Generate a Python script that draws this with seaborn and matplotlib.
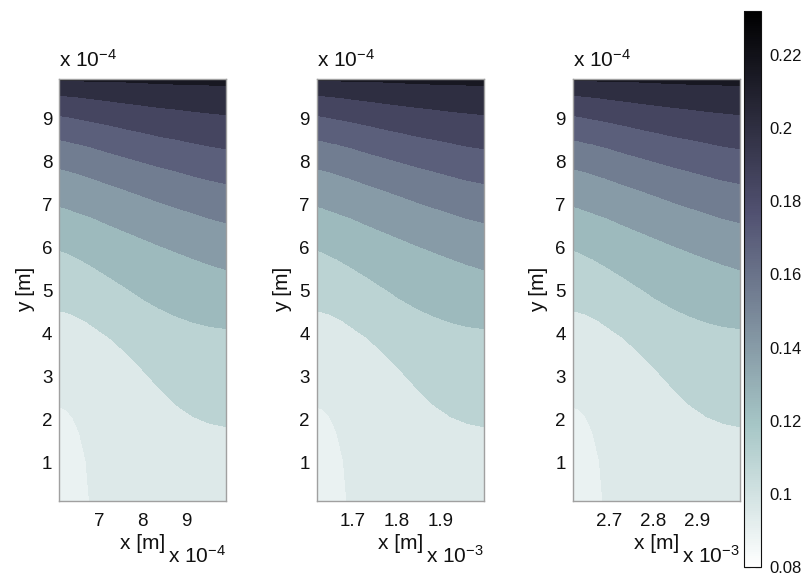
"""
Three contour panels of the same field on three x-windows, shared bone colorbar.
"""

import numpy as np
import matplotlib
matplotlib.use("Agg")
import matplotlib.pyplot as plt
import matplotlib.colors as mcolors
import seaborn as sns

# contour levels (field value) and where each level line sits, y in 1e-4 m,
# read at fractional positions across the panel width
levels = [0.08, 0.095, 0.11, 0.125, 0.14, 0.155, 0.17, 0.185, 0.20, 0.215, 0.232]
# value used for the colour of each band (lower level, first band a touch darker)
band_values = [0.089, 0.095, 0.11, 0.125, 0.14, 0.155, 0.17, 0.185, 0.20, 0.215]
u_cols = [0, 0.04, 0.08, 0.12, 0.16, 0.2, 0.3, 0.4, 0.5, 0.6, 0.7, 0.8, 0.9, 1.0]
y_080 = [-3.0] * 14
y_095 = [2.30, 2.24, 2.06, 1.71, 1.05, -0.8, -2.5, -2.5, -2.5, -2.5, -2.5, -2.5, -2.5, -2.5]
y_110 = [4.53, 4.50, 4.45, 4.37, 4.29, 4.18, 3.91, 3.56, 3.16, 2.73, 2.35, 2.08, 1.92, 1.84]
y_125 = [5.94, 5.89, 5.81, 5.74, 5.65, 5.56, 5.32, 5.07, 4.81, 4.59, 4.41, 4.27, 4.17, 4.12]
y_140 = [6.96, 6.92, 6.86, 6.81, 6.75, 6.70, 6.53, 6.37, 6.21, 6.05, 5.90, 5.75, 5.61, 5.49]
y_155 = [7.84, 7.80, 7.76, 7.71, 7.66, 7.61, 7.47, 7.34, 7.20, 7.06, 6.93, 6.81, 6.68, 6.58]
y_170 = [8.51, 8.48, 8.44, 8.41, 8.37, 8.33, 8.21, 8.10, 7.99, 7.88, 7.78, 7.67, 7.57, 7.49]
y_185 = [9.07, 9.05, 9.02, 8.99, 8.96, 8.93, 8.85, 8.76, 8.68, 8.59, 8.52, 8.44, 8.36, 8.30]
y_200 = [9.54, 9.53, 9.51, 9.50, 9.48, 9.46, 9.41, 9.36, 9.31, 9.26, 9.22, 9.17, 9.13, 9.09]
y_215 = [9.88, 9.88, 9.88, 9.88, 9.87, 9.87, 9.86, 9.85, 9.83, 9.82, 9.80, 9.79, 9.78, 9.77]
y_232 = [10.3] * 14

# x windows of the three panels [m] and their tick labels
x_windows = [(6.1e-4, 9.9e-4), (1.617e-3, 1.997e-3), (2.617e-3, 2.997e-3)]
x_ticks = [[7e-4, 8e-4, 9e-4], [1.7e-3, 1.8e-3, 1.9e-3], [2.7e-3, 2.8e-3, 2.9e-3]]
x_ticklabels = [["7", "8", "9"], ["1.7", "1.8", "1.9"], ["2.7", "2.8", "2.9"]]
x_exponents = ["-4", "-3", "-3"]
y_ticks = [1, 2, 3, 4, 5, 6, 7, 8, 9]
cbar_ticks = [0.08, 0.10, 0.12, 0.14, 0.16, 0.18, 0.20, 0.22]
cbar_ticklabels = ["0.08", "0.1", "0.12", "0.14", "0.16", "0.18", "0.2", "0.22"]

sns.set_theme(style="white")
plt.rcParams["font.family"] = ["Liberation Sans", "DejaVu Sans"]
plt.rcParams["mathtext.fontset"] = "custom"
plt.rcParams["mathtext.rm"] = "Liberation Sans"
plt.rcParams["mathtext.it"] = "Liberation Sans:italic"

fs_tick, fs_label = 13.5, 15
ink = "#111111"
norm = mcolors.Normalize(vmin=levels[0], vmax=levels[-1])
cmap = plt.get_cmap("bone_r")
band_colors = [cmap(norm(v)) for v in band_values]

rows = np.array([y_080, y_095, y_110, y_125, y_140, y_155, y_170,
                 y_185, y_200, y_215, y_232]) * 1e-4
Z = np.repeat(np.array(levels)[:, None], len(u_cols), axis=1)

fig = plt.figure(figsize=(8.06, 5.78), dpi=100)
W, H = 806, 578
lefts = [59.3, 316.7, 572.7]
ax_w, ax_top, ax_bot = 167.0, 79.0, 500.7

for i, x0 in enumerate(lefts):
    ax = fig.add_axes([x0 / W, (H - ax_bot) / H, ax_w / W, (ax_bot - ax_top) / H])
    xa, xb = x_windows[i]
    X = xa + np.array(u_cols)[None, :] * (xb - xa) * np.ones_like(rows)
    ax.contourf(X, rows, Z, levels=levels, colors=band_colors)
    ax.set_xlim(xa, xb)
    ax.set_ylim(0.12e-4, 9.92e-4)
    ax.set_xticks(x_ticks[i])
    ax.set_xticklabels(x_ticklabels[i])
    ax.set_yticks([t * 1e-4 for t in y_ticks])
    ax.set_yticklabels([str(t) for t in y_ticks])
    ax.tick_params(axis="x", length=0, pad=9, labelsize=fs_tick, colors=ink)
    ax.tick_params(axis="y", length=0, pad=5, labelsize=fs_tick, colors=ink)
    for s in ax.spines.values():
        s.set_color("#a0a0a0")
        s.set_linewidth(1.0)
    ax.set_xlabel("x [m]", fontsize=fs_label, labelpad=3, color=ink)
    ax.set_ylabel("y [m]", fontsize=fs_label, labelpad=5, color=ink)
    ax.text(0.0, 1.02, r"x 10$^{-4}$", transform=ax.transAxes, fontsize=fs_label,
            ha="left", va="bottom", color=ink)
    ax.text(1.0, -0.148, "x 10$^{%s}$" % x_exponents[i], transform=ax.transAxes,
            fontsize=fs_label, ha="right", va="baseline", color=ink)

cax = fig.add_axes([744 / W, 11 / H, 17 / W, 556 / H])
sm = plt.cm.ScalarMappable(norm=norm, cmap=cmap)
cb = fig.colorbar(sm, cax=cax, ticks=cbar_ticks)
cb.ax.set_yticklabels(cbar_ticklabels)
cb.ax.tick_params(direction="in", left=True, right=True, length=4, width=0.8,
                  labelsize=12, pad=6, colors=ink)
cb.outline.set_linewidth(0.8)
cb.outline.set_edgecolor(ink)

fig.savefig("out.png", dpi=100)
plt.close(fig)
